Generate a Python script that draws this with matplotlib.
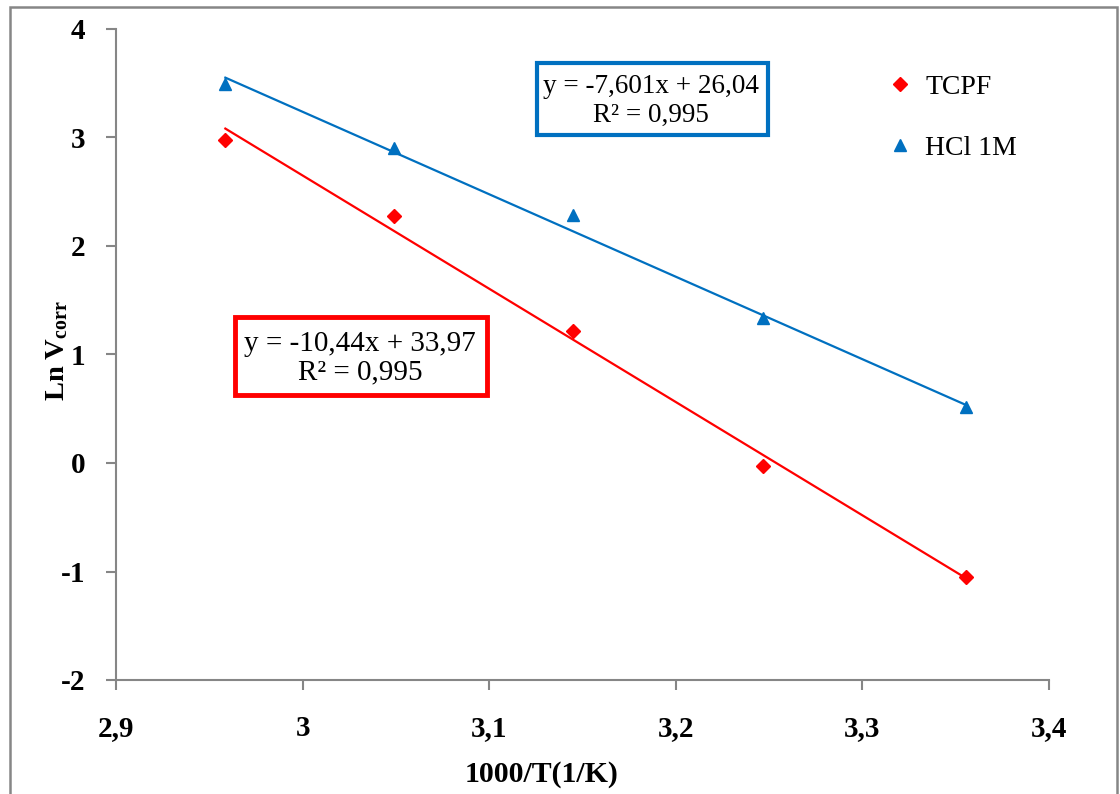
import matplotlib
matplotlib.use("Agg")
import matplotlib.pyplot as plt
from matplotlib.patches import Rectangle
import numpy as np

# data
x_vals = [2.9586, 3.0488, 3.1447, 3.2468, 3.3557]
tcpf_y = [2.98, 2.28, 1.22, -0.03, -1.05]
hcl_y = [3.49, 2.90, 2.29, 1.34, 0.52]
tcpf_fit = [-10.44, 33.97]
hcl_fit = [-7.601, 26.04]
series_labels = ["TCPF", "HCl 1M"]
x_ticks = [2.9, 3.0, 3.1, 3.2, 3.3, 3.4]
x_ticklabels = ["2,9", "3", "3,1", "3,2", "3,3", "3,4"]
y_ticks = [-2, -1, 0, 1, 2, 3, 4]
y_ticklabels = ["-2", "-1", "0", "1", "2", "3", "4"]
eq_tcpf = "y = -10,44x + 33,97\nR² = 0,995"
eq_hcl = "y = -7,601x + 26,04\nR² = 0,995"

plt.rcParams['font.family'] = ['Liberation Serif', 'DejaVu Serif']
plt.rcParams['mathtext.fontset'] = 'custom'
plt.rcParams['mathtext.rm'] = 'Liberation Serif:bold'
plt.rcParams['mathtext.it'] = 'Liberation Serif:bold'
plt.rcParams['mathtext.bf'] = 'Liberation Serif:bold'

W, H = 1120, 794
fig = plt.figure(figsize=(W/100, H/100), dpi=100)
ax = fig.add_axes([116/W, 1-680/H, (1049-116)/W, (680-29)/H])

red = '#FF0000'
blue = '#0070C0'
gray = '#868686'

xs = np.array([min(x_vals), max(x_vals)])
ax.plot(xs, hcl_fit[0]*xs + hcl_fit[1], color=blue, lw=1.6, zorder=2)
ax.plot(xs, tcpf_fit[0]*xs + tcpf_fit[1], color=red, lw=1.6, zorder=2)
ax.plot(x_vals, tcpf_y, linestyle='none', marker='D', ms=7.5, color=red,
        label=series_labels[0], zorder=3)
ax.plot(x_vals, hcl_y, linestyle='none', marker='^', ms=9, color=blue,
        label=series_labels[1], zorder=3)

ax.set_xlim(2.9, 3.4)
ax.set_ylim(-2, 4)
ax.set_xticks(x_ticks)
ax.set_xticklabels(x_ticklabels)
ax.set_yticks(y_ticks)
ax.set_yticklabels(y_ticklabels)
for s in ['top', 'right']:
    ax.spines[s].set_visible(False)
for s in ['left', 'bottom']:
    ax.spines[s].set_color(gray)
    ax.spines[s].set_linewidth(1.5)
ax.tick_params(axis='both', direction='out', length=7, width=1.5, color=gray,
               labelsize=21)
ax.tick_params(axis='x', pad=18)
ax.tick_params(axis='y', pad=15)
for lab in ax.get_xticklabels() + ax.get_yticklabels():
    lab.set_fontweight('bold')

fig.text(542/W, 1-775/H, "1000/T(1/K)", ha='center', va='center',
         fontsize=21.5, fontweight='bold')
fig.text(57/W, 1-351/H, r"Ln V$_{\mathrm{corr}}$", ha='center', va='center',
         rotation=90, fontsize=20.5, fontweight='bold')

# equation boxes
fig.patches.append(Rectangle((537/W, 1-135/H), (768-537)/W, (135-63)/H,
                             transform=fig.transFigure, fc='white', ec=blue,
                             lw=3, zorder=5))
fig.text(651/W, 1-101/H, eq_hcl, ha='center', va='center', fontsize=19.5,
         linespacing=1.25, zorder=6)
fig.patches.append(Rectangle((235/W, 1-395/H), (487-235)/W, (395-317)/H,
                             transform=fig.transFigure, fc='white', ec=red,
                             lw=3.5, zorder=5))
fig.text(360/W, 1-358/H, eq_tcpf, ha='center', va='center', fontsize=21,
         linespacing=1.12, zorder=6)

leg = ax.legend(loc='upper left', bbox_to_anchor=(875/W, 1-63/H),
                bbox_transform=fig.transFigure, frameon=False, fontsize=20,
                handlelength=1.0, handletextpad=0.4, labelspacing=1.3,
                borderaxespad=0)

fig.patches.append(Rectangle((10/W, -0.02), (1117-10)/W, 1.02-7/H,
                             transform=fig.transFigure, fill=False,
                             ec=gray, lw=1.8))

fig.savefig("out.png", dpi=100)
